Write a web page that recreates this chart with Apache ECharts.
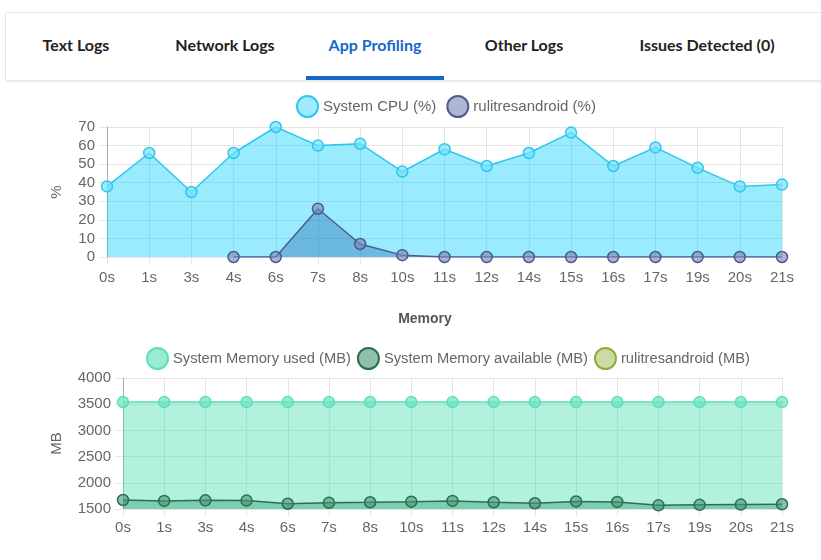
<!DOCTYPE html>
<html><head><meta charset="utf-8">
<script src="https://cdn.jsdelivr.net/npm/echarts@6/dist/echarts.min.js"></script>
<style>
html,body{margin:0;padding:0;background:#fff;width:821px;height:560px;overflow:hidden;}
#tabs{position:absolute;left:5px;top:12px;width:830px;height:67px;border:1px solid #e6e6e6;border-radius:2px;box-shadow:0 2px 2px rgba(0,0,0,0.05);background:#fff;}
.tab{position:absolute;top:22px;font-family:Lato,"Open Sans",sans-serif;font-weight:700;font-size:16px;color:#222;transform:translateX(-50%);white-space:nowrap;}
.active{color:#1668cc;}
#ul{position:absolute;left:300px;top:63px;width:138px;height:4px;background:#1668cc;}
#chart{position:absolute;left:0;top:0;width:821px;height:560px;}
</style></head>
<body>
<div id="tabs">
  <div class="tab" style="left:70px">Text Logs</div>
  <div class="tab" style="left:219px">Network Logs</div>
  <div class="tab active" style="left:369px">App Profiling</div>
  <div class="tab" style="left:518px">Other Logs</div>
  <div class="tab" style="left:701px">Issues Detected (0)</div>
  <div id="ul"></div>
</div>
<div id="chart"></div>
<script>
const categories = ['0s','1s','3s','4s','6s','7s','8s','10s','11s','12s','14s','15s','16s','17s','19s','20s','21s'];
const systemCpu = [38,56,35,56,70,60,61,46,58,49,56,67,49,59,48,38,39];
const appCpu = [null,null,null,0,0,26,7,1,0,0,0,0,0,0,0,0,0];
const memUsed = [3540,3540,3540,3540,3540,3540,3540,3540,3540,3540,3540,3540,3540,3540,3540,3540,3540];
const memAvailable = [1672,1655,1666,1660,1600,1620,1628,1640,1655,1628,1610,1645,1635,1570,1580,1585,1590];
const appMem = [null,null,null,null,null,null,null,null,null,null,null,null,null,null,null,null,null];

const font = '"Liberation Sans", Arial, sans-serif';
const grey = '#666';
const gridColor = '#e5e5e5';

function xAxis(gridIndex, margin){
  return {type:'category', gridIndex, data:categories, boundaryGap:false,
    axisLine:{show:false}, axisTick:{show:true,length:7,lineStyle:{color:gridColor}},
    axisLabel:{color:grey,fontFamily:font,fontSize:15,margin},
    splitLine:{show:true,lineStyle:{color:gridColor}}};
}
function yAxis(gridIndex,min,max,interval,name,gap){
  return {type:'value', gridIndex, min, max, interval, name, nameLocation:'middle', nameGap:gap, nameMoveOverlap:false,
    nameTextStyle:{color:grey,fontFamily:font,fontSize:15},
    axisLine:{show:true,lineStyle:{color:'#aaa'}}, axisTick:{show:true,length:8,lineStyle:{color:gridColor}},
    axisLabel:{color:grey,fontFamily:font,fontSize:15,margin:12,formatter:(v)=>String(v)},
    splitLine:{show:true,lineStyle:{color:gridColor}}};
}
function series(name,data,xi,line,fill,pointFill,z){
  return {name,type:'line',data,xAxisIndex:xi,yAxisIndex:xi,z,
    symbol:'circle',symbolSize:11,showSymbol:true,connectNulls:false,
    lineStyle:{color:line,width:1.5},
    itemStyle:{color:pointFill,borderColor:line,borderWidth:1.5},
    areaStyle:{color:fill,origin:'start',opacity:1},
    emphasis:{disabled:true}};
}
const legendText = {color:grey,fontFamily:font,fontSize:15};
const chart = echarts.init(document.getElementById('chart'));
chart.setOption({
  animation:false,
  title:{text:'Memory',left:420,top:307,textAlign:'center',
    textStyle:{fontFamily:font,fontSize:14,fontWeight:'bold',color:'#555'}},
  legend:[
    {data:['System CPU (%)','rulitresandroid (%)'],top:95,left:296,padding:0,itemWidth:21,itemHeight:21,itemGap:10,
     icon:'circle',textStyle:legendText},
    {data:['System Memory used (MB)','System Memory available (MB)','rulitresandroid (MB)'],top:347,left:146,padding:0,
     itemWidth:21,itemHeight:21,itemGap:6,icon:'circle',textStyle:{color:grey,fontFamily:font,fontSize:14.7}}
  ],
  grid:[
    {left:107,right:39,top:127,height:130},
    {left:123,right:39,top:378,height:131}
  ],
  xAxis:[xAxis(0,13),xAxis(1,11)],
  yAxis:[yAxis(0,0,70,10,'%',43),yAxis(1,1500,4000,500,'MB',59)],
  series:[
    series('System CPU (%)',systemCpu,0,'#2cc8ef','rgba(0,205,250,0.4)','rgba(120,225,250,0.7)',2),
    series('rulitresandroid (%)',appCpu,0,'#4b5c92','rgba(20,90,170,0.35)','rgba(120,135,180,0.6)',3),
    series('System Memory used (MB)',memUsed,1,'#5ddfb7','rgba(60,220,170,0.4)','rgba(110,228,192,0.7)',2),
    series('System Memory available (MB)',memAvailable,1,'#2c6e53','rgba(30,140,95,0.35)','rgba(70,150,115,0.6)',3),
    series('rulitresandroid (MB)',appMem,1,'#8fab3c','rgba(160,190,80,0.4)','rgba(190,210,140,0.8)',4)
  ]
});
</script>
</body></html>
